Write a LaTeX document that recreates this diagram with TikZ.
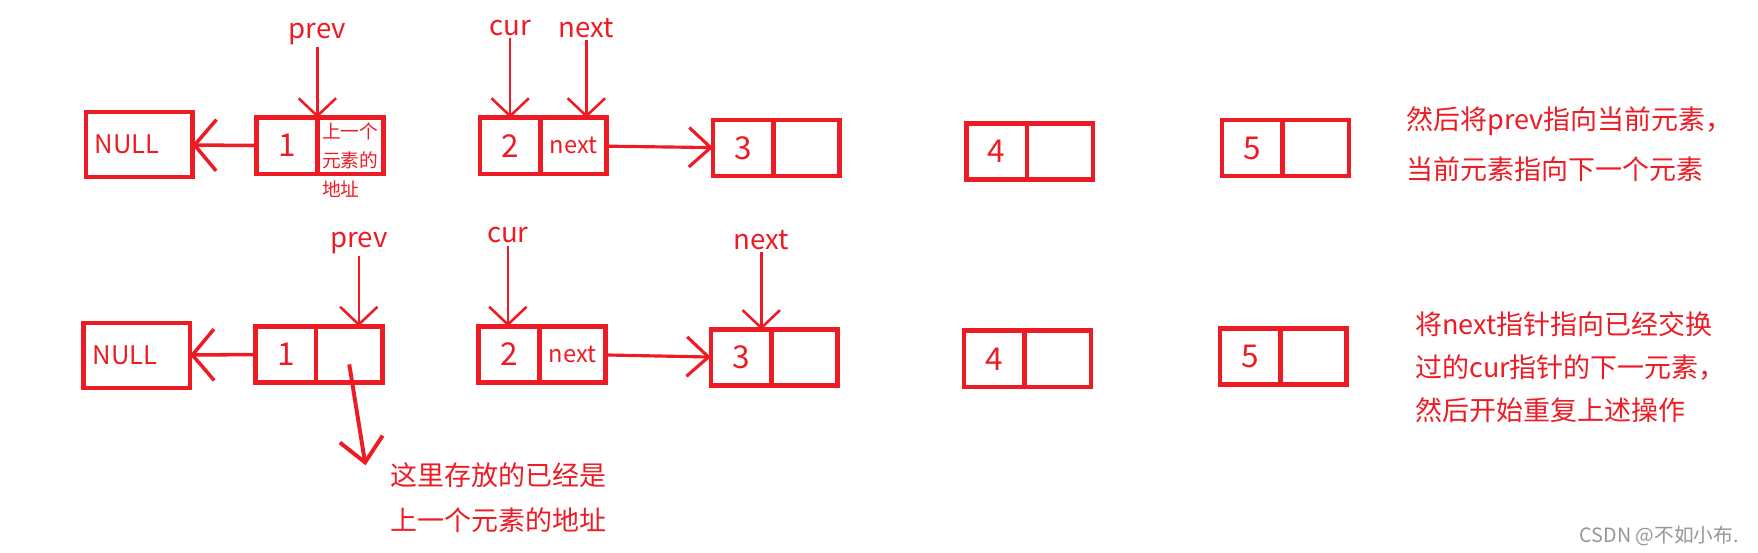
\documentclass[tikz,border=0pt]{standalone}
\usepackage{fontspec}
\setmainfont{Noto Sans CJK SC}
\usepackage{tikz}
\usetikzlibrary{positioning,arrows.meta}
\definecolor{paintred}{RGB}{237,28,36}
\definecolor{markgray}{RGB}{150,150,150}

\begin{document}
\begin{tikzpicture}[x=0.02cm, y=-0.02cm, node distance=0pt]
    \tikzstyle{datacell} = [rectangle, draw=paintred, line width=2.3pt, outer sep=0pt, minimum width=1.08cm, minimum height=1cm, text=paintred, font=\fontsize{16}{18}\selectfont]
    \tikzstyle{ptrcell} = [datacell, minimum width=1.18cm, font=\fontsize{12}{14}\selectfont]
    \tikzstyle{nullbox} = [rectangle, draw=paintred, line width=2.3pt, outer sep=0pt, text width=1.58cm, inner xsep=0.16cm, minimum height=1.16cm, align=left, text=paintred, font=\fontsize{13}{15}\selectfont]
    \tikzstyle{pointer} = [text=paintred, font=\fontsize{14}{17}\selectfont, inner sep=1pt]
    \tikzstyle{note} = [text=paintred, font=\fontsize{13.7}{25}\selectfont, align=left, anchor=north west, inner sep=0pt]
    \tikzstyle{ptrarrow} = [draw=paintred, line width=1.3pt, -{Straight Barb[length=9pt,width=19pt]}]
    \tikzstyle{linkarrow} = [draw=paintred, line width=1.6pt, -{Straight Barb[length=11pt,width=20pt]}]
    \tikzstyle{backarrow} = [draw=paintred, line width=1.8pt, -{Straight Barb[length=11pt,width=26pt]}]

    \useasboundingbox (0,0) rectangle (1568,493);

    % First row: prev on 1, cur on 2
    \node [nullbox] (nullA) at (124,129) {NULL};
    \node [datacell] (t1) at (256,130) {1};
    \node [ptrcell, right=of t1] (t1p) {};
    \node [datacell] (t2) at (455,130) {2};
    \node [ptrcell, right=of t2] (t2p) {next};
    \node [datacell] (t3) at (663,132) {3};
    \node [ptrcell, right=of t3] (t3p) {};
    \node [datacell] (t4) at (889,135) {4};
    \node [ptrcell, right=of t4] (t4p) {};
    \node [datacell] (t5) at (1117,132) {5};
    \node [ptrcell, right=of t5] (t5p) {};
    \node [note, font=\fontsize{9.5}{14.8}\selectfont] (addrA) at (287,109) {上一个\\元素的\\地址};

    \node [pointer] (prevA) at (283,30) {prev};
    \node [pointer] (curA) at (455,25) {cur};
    \node [pointer] (nextA) at (523,25) {next};
    \draw [ptrarrow] (prevA) -- (prevA |- t1.north);
    \draw [ptrarrow] (curA) -- (curA |- t2.north);
    \draw [ptrarrow] (nextA) -- (nextA |- t2p.north);

    \draw [backarrow] (t1) -- (nullA);
    \draw [linkarrow] (t2p) -- (t3);

    \node [note] (stepA) at (1254,95) {然后将prev指向当前元素，\\当前元素指向下一个元素};

    % Second row: next moved on to 3
    \node [nullbox] (nullB) at (122,317) {NULL};
    \node [datacell] (b1) at (255,316) {1};
    \node [ptrcell, right=of b1] (b1p) {};
    \node [datacell] (b2) at (454,316) {2};
    \node [ptrcell, right=of b2] (b2p) {next};
    \node [datacell] (b3) at (661,319) {3};
    \node [ptrcell, right=of b3] (b3p) {};
    \node [datacell] (b4) at (887,320) {4};
    \node [ptrcell, right=of b4] (b4p) {};
    \node [datacell] (b5) at (1115,318) {5};
    \node [ptrcell, right=of b5] (b5p) {};

    \node [pointer] (prevB) at (320,217) {prev};
    \node [pointer] (curB) at (453,210) {cur};
    \node [pointer] (nextB) at (679,214) {next};
    \draw [ptrarrow] (prevB) -- (prevB |- b1p.north);
    \draw [ptrarrow] (curB) -- (curB |- b2.north);
    \draw [ptrarrow] (nextB) -- (nextB |- b3.north);

    \draw [backarrow] (b1) -- (nullB);
    \draw [linkarrow] (b2p) -- (b3);

    \node [note, font=\fontsize{13.7}{22.8}\selectfont] (memo) at (348,412) {这里存放的已经是\\上一个元素的地址};
    \coordinate (memoTip) at (326,415);
    \draw [draw=paintred, line width=2pt, -{Straight Barb[length=12pt,width=22pt]}] ([yshift=-0.18cm]b1p.center) -- (memoTip);

    \node [note, font=\fontsize{13.7}{21.6}\selectfont] (stepB) at (1262,278) {将next指针指向已经交换\\过的cur指针的下一元素，\\然后开始重复上述操作};

    \node [text=markgray, font=\fontsize{10}{12}\selectfont, anchor=east] (mark) at (1557,478) {CSDN @不如小布.};
\end{tikzpicture}
\end{document}
